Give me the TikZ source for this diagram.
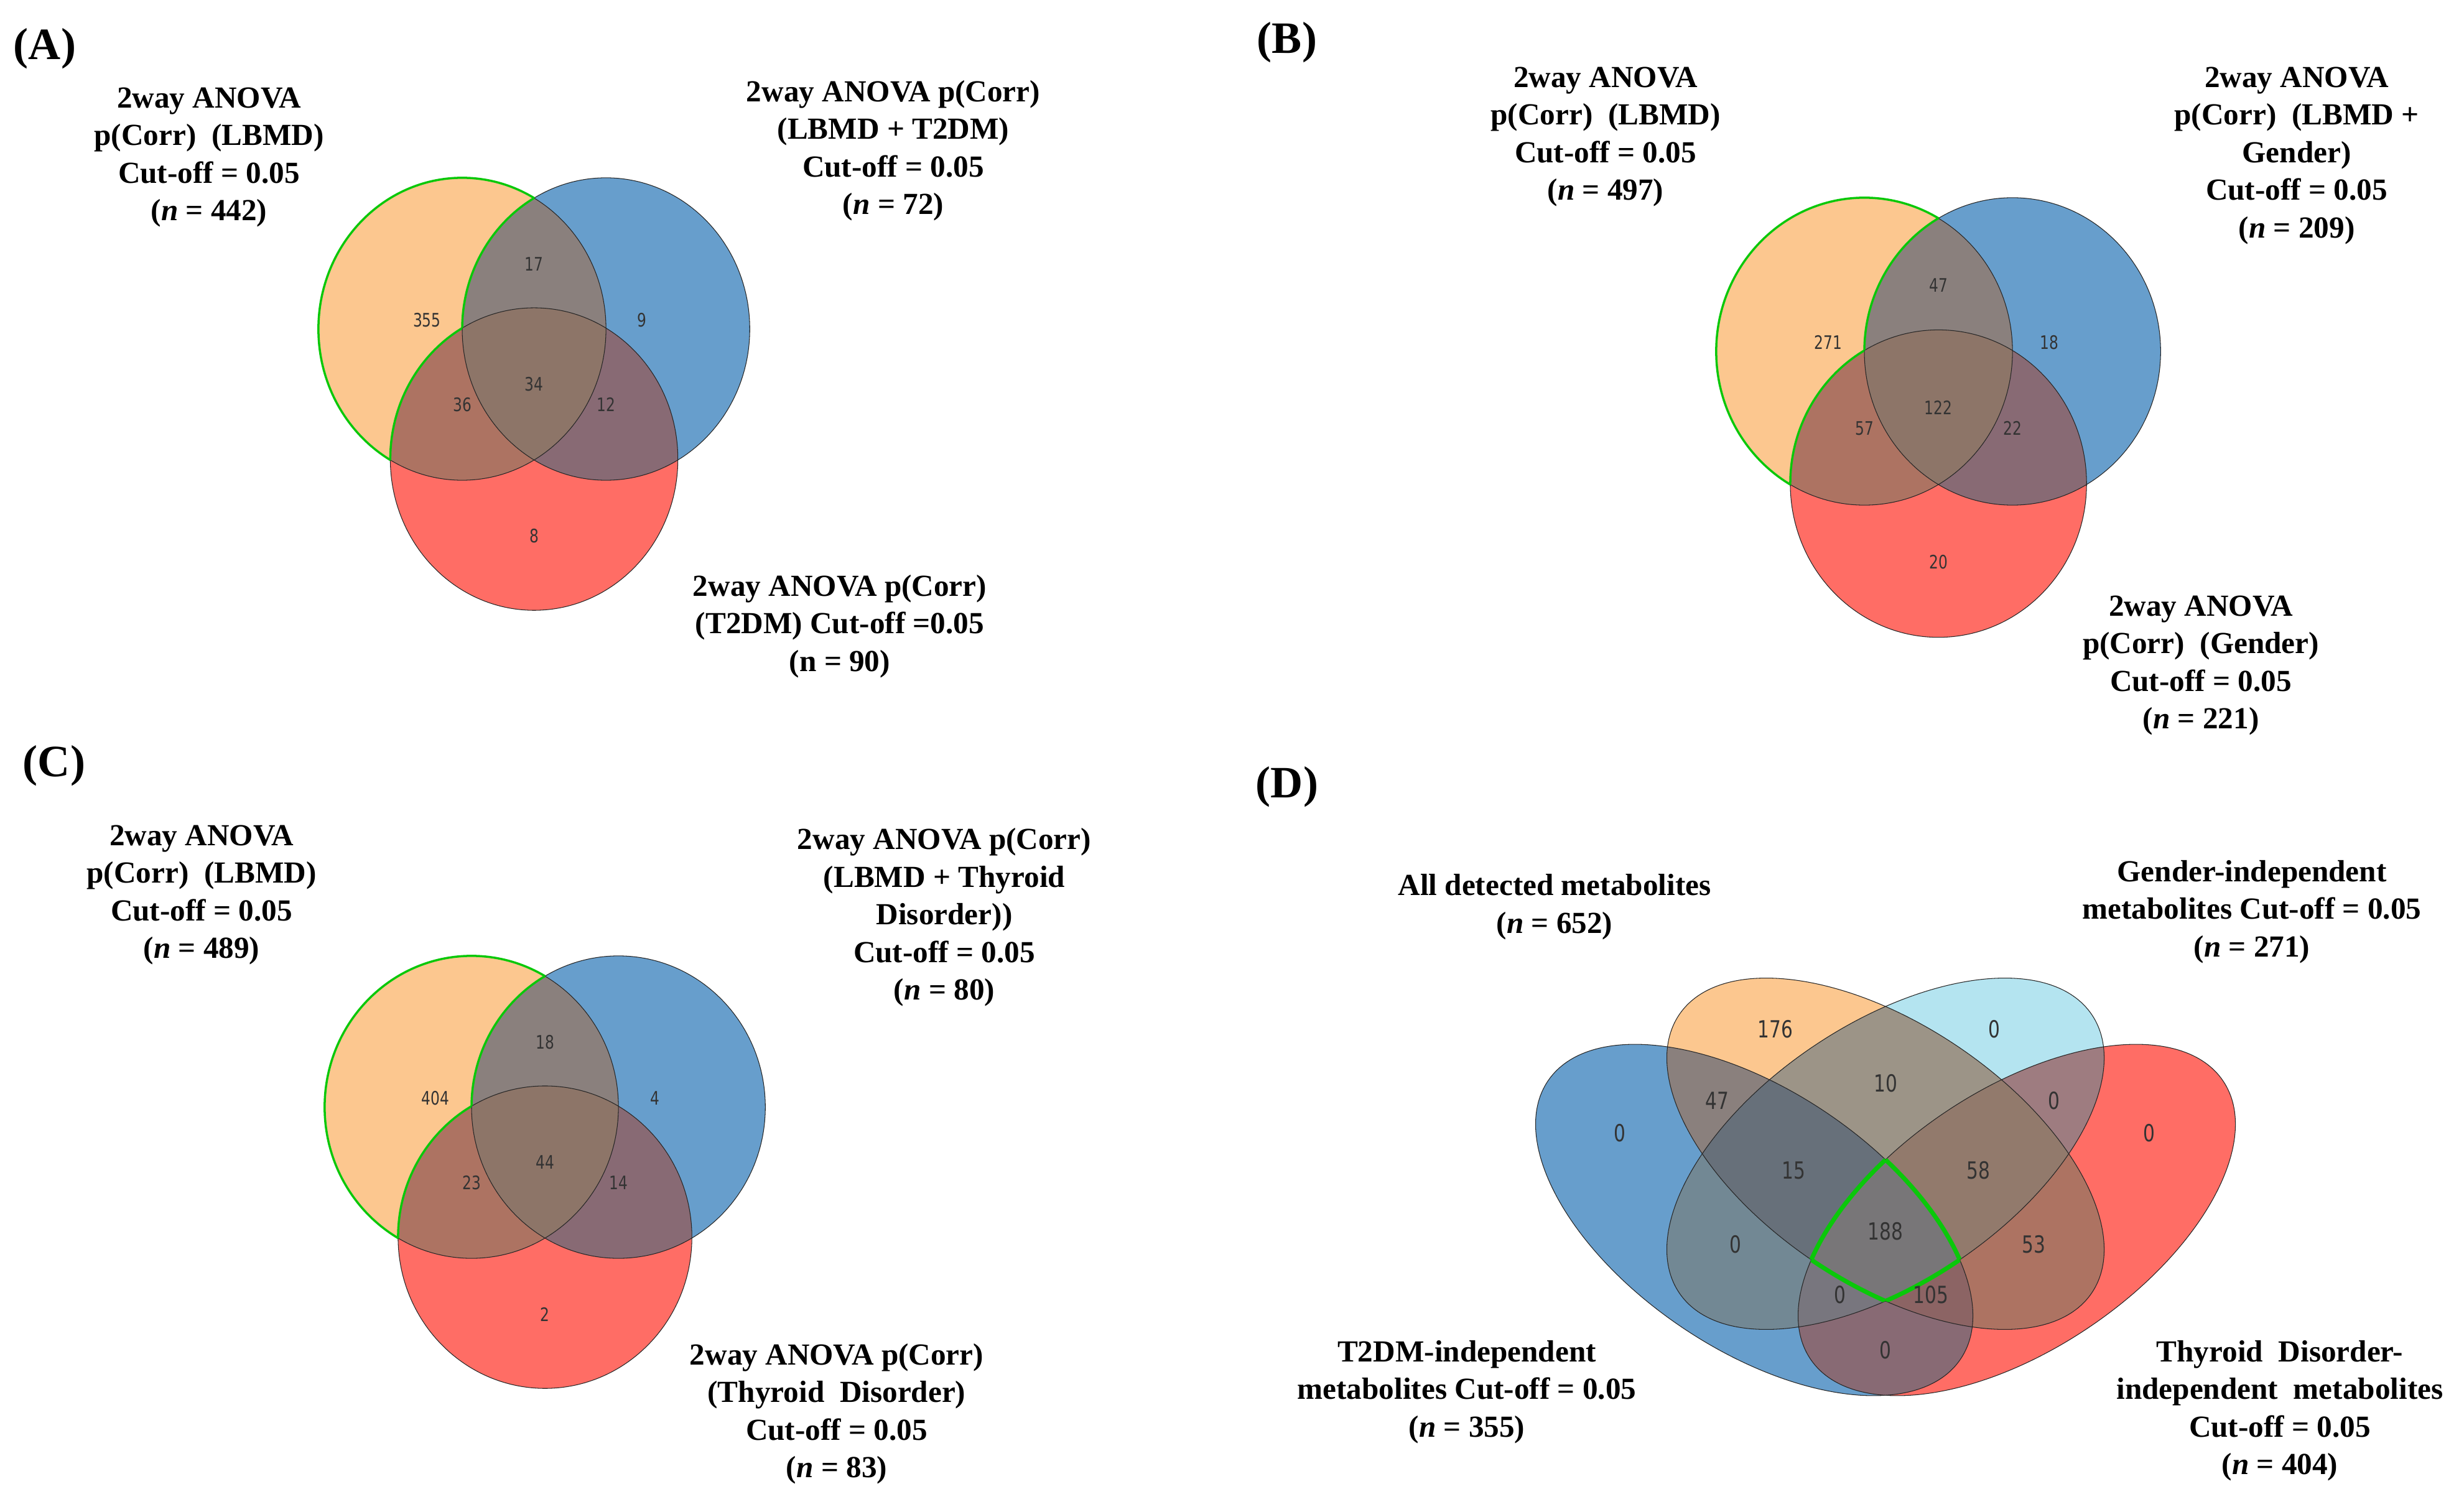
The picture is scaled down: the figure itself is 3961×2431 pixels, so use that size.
\documentclass[tikz,border=0pt]{standalone}
\usepackage{fontspec}
\setmainfont{Liberation Serif}
\newfontfamily\numfont[FakeStretch=0.78]{DejaVu Sans}

\definecolor{vO}{RGB}{252,199,143}
\definecolor{vB}{RGB}{103,158,204}
\definecolor{vR}{RGB}{255,109,101}
\definecolor{vL}{RGB}{180,228,240}
\definecolor{vOB}{RGB}{138,128,125}
\definecolor{vOR}{RGB}{173,115,98}
\definecolor{vBR}{RGB}{136,106,116}
\definecolor{vOBR}{RGB}{141,117,104}
\definecolor{vOL}{RGB}{156,148,135}
\definecolor{vLR}{RGB}{158,124,128}
\definecolor{vBL}{RGB}{114,136,148}
\definecolor{vBOL}{RGB}{103,112,122}
\definecolor{vOLR}{RGB}{146,122,108}
\definecolor{vBLR}{RGB}{120,118,126}
\definecolor{vBOR}{RGB}{140,100,100}
\definecolor{vAll}{RGB}{120,118,120}
\definecolor{hlgreen}{RGB}{10,200,10}

\tikzset{
  lbl/.style={font=\bfseries\fontsize{14}{17.2}\selectfont, align=center, inner sep=0pt},
  num/.style={font=\numfont\fontsize{8.5}{10}\selectfont, text=black!80, inner sep=0pt},
  numD/.style={font=\numfont\fontsize{10.8}{12}\selectfont, text=black!80, inner sep=0pt},
  tag/.style={font=\bfseries\fontsize{20.5}{24}\selectfont, inner sep=0pt},
  rim/.style={draw=black!85, line width=0.3pt},
  hl/.style={draw=hlgreen, line width=1pt},
  hlD/.style={draw=hlgreen, line width=2pt},
  eB/.style={rotate around={-34:(2820,1961.5)}},
  eO/.style={rotate around={-34:(3031,1855)}},
  eL/.style={rotate around={34:(3031,1855)}},
  eR/.style={rotate around={34:(3242,1961.5)}}
}

% ellipses of panel D
\newcommand\shB{(2820,1961.5) ellipse [x radius=400, y radius=208]}
\newcommand\shO{(3031,1855) ellipse [x radius=400, y radius=208]}
\newcommand\shL{(3031,1855) ellipse [x radius=400, y radius=208]}
\newcommand\shR{(3242,1961.5) ellipse [x radius=400, y radius=208]}
\newcommand\lapfill[5]{\begin{scope}\clip[#1]#2;\fill[#3,fill=#5]#4;\end{scope}}

% three circle venn, unit = radius
\newcommand\venntri[8]{%
  \fill[vO] (0,0) circle (1);
  \fill[vB] (1,0) circle (1);
  \fill[vR] (0.5,0.86) circle (1);
  \begin{scope}
    \clip (0,0) circle (1);
    \fill[vOB] (1,0) circle (1);
    \fill[vOR] (0.5,0.86) circle (1);
  \end{scope}
  \begin{scope}
    \clip (1,0) circle (1);
    \fill[vBR] (0.5,0.86) circle (1);
  \end{scope}
  \begin{scope}
    \clip (0,0) circle (1);
    \clip (1,0) circle (1);
    \fill[vOBR] (0.5,0.86) circle (1);
  \end{scope}
  \draw[rim] (0,0) circle (1) (1,0) circle (1) (0.5,0.86) circle (1);
  % green rim of the first set alone
  \begin{scope}[even odd rule]
    \clip (-3,-3) rectangle (4,4) (1,0) circle (1);
    \clip (-3,-3) rectangle (4,4) (0.5,0.86) circle (1);
    \draw[hl] (0,0) circle (1);
  \end{scope}
  \begin{scope}[even odd rule]
    \clip (0,0) circle (1);
    \clip (-3,-3) rectangle (4,4) (0.5,0.86) circle (1);
    \draw[hl] (1,0) circle (1);
  \end{scope}
  \begin{scope}[even odd rule]
    \clip (0,0) circle (1);
    \clip (-3,-3) rectangle (4,4) (1,0) circle (1);
    \draw[hl] (0.5,0.86) circle (1);
  \end{scope}
  \node[num] (#1-o) at (-0.245,-0.06) {#2};
  \node[num] (#1-b) at (1.25,-0.06) {#3};
  \node[num] (#1-r) at (0.5,1.37) {#4};
  \node[num] (#1-ob) at (0.5,-0.43) {#5};
  \node[num] (#1-or) at (0,0.5) {#6};
  \node[num] (#1-br) at (1,0.5) {#7};
  \node[num] (#1-obr) at (0.5,0.365) {#8};
}

\begin{document}
\begin{tikzpicture}[x=0.01cm, y=-0.01cm]
\useasboundingbox (0,0) rectangle (3961,2431);

% (A)
\begin{scope}[shift={(743,529)}, x=2.31cm, y=-2.43cm]
  \venntri{A}{355}{9}{8}{17}{36}{12}{34}
\end{scope}
\node[tag] (tagA) at (72,78) {(A)};
\node[lbl] (labA1) at (336,253) {2way ANOVA\\ p(Corr)\ \ (LBMD)\\ Cut-off = 0.05\\ (\textit{n} = 442)};
\node[lbl] (labA2) at (1436,242) {2way ANOVA p(Corr)\\ (LBMD + T2DM)\\ Cut-off = 0.05\\ (\textit{n} = 72)};
\node[lbl] (labA3) at (1350,1007) {2way ANOVA p(Corr)\\ (T2DM) Cut-off =0.05\\ (n = 90)};

% (B)
\begin{scope}[shift={(2997,565)}, x=2.38cm, y=-2.47cm]
  \venntri{B}{271}{18}{20}{47}{57}{22}{122}
\end{scope}
\node[tag] (tagB) at (2069,68) {(B)};
\node[lbl] (labB1) at (2581,220) {2way ANOVA\\ p(Corr)\ \ (LBMD)\\ Cut-off = 0.05\\ (\textit{n} = 497)};
\node[lbl] (labB2) at (3692,250) {2way ANOVA\\ p(Corr)\ \ (LBMD +\\ Gender)\\ Cut-off = 0.05\\ (\textit{n} = 209)};
\node[lbl] (labB3) at (3538,1070) {2way ANOVA\\ p(Corr)\ \ (Gender)\\ Cut-off = 0.05\\ (\textit{n} = 221)};

% (C)
\begin{scope}[shift={(758,1780)}, x=2.36cm, y=-2.43cm]
  \venntri{C}{404}{4}{2}{18}{23}{14}{44}
\end{scope}
\node[tag] (tagC) at (87,1231) {(C)};
\node[lbl] (labC1) at (324,1439) {2way ANOVA\\ p(Corr)\ \ (LBMD)\\ Cut-off = 0.05\\ (\textit{n} = 489)};
\node[lbl] (labC2) at (1518,1475) {2way ANOVA p(Corr)\\ (LBMD + Thyroid\\ Disorder))\\ Cut-off = 0.05\\ (\textit{n} = 80)};
\node[lbl] (labC3) at (1345,2273) {2way ANOVA p(Corr)\\ (Thyroid\ \ Disorder)\\ Cut-off = 0.05\\ (\textit{n} = 83)};

% (D)
\fill[eB, fill=vB] \shB;
\fill[eO, fill=vO] \shO;
\fill[eL, fill=vL] \shL;
\fill[eR, fill=vR] \shR;
\lapfill{eB}{\shB}{eO}{\shO}{vOB}
\lapfill{eB}{\shB}{eL}{\shL}{vBL}
\lapfill{eB}{\shB}{eR}{\shR}{vBR}
\lapfill{eO}{\shO}{eL}{\shL}{vOL}
\lapfill{eO}{\shO}{eR}{\shR}{vOR}
\lapfill{eL}{\shL}{eR}{\shR}{vLR}
\begin{scope}\clip[eB]\shB; \lapfill{eO}{\shO}{eL}{\shL}{vBOL}\end{scope}
\begin{scope}\clip[eB]\shB; \lapfill{eO}{\shO}{eR}{\shR}{vBOR}\end{scope}
\begin{scope}\clip[eB]\shB; \lapfill{eL}{\shL}{eR}{\shR}{vBLR}\end{scope}
\begin{scope}\clip[eO]\shO; \lapfill{eL}{\shL}{eR}{\shR}{vOLR}\end{scope}
\begin{scope}\clip[eB]\shB; \clip[eO]\shO; \lapfill{eL}{\shL}{eR}{\shR}{vAll}\end{scope}
\draw[rim, eB] \shB;
\draw[rim, eO] \shO;
\draw[rim, eL] \shL;
\draw[rim, eR] \shR;
% green rim of the common part
\begin{scope}\clip[eO]\shO; \clip[eL]\shL; \clip[eR]\shR; \draw[hlD, eB] \shB;\end{scope}
\begin{scope}\clip[eB]\shB; \clip[eL]\shL; \clip[eR]\shR; \draw[hlD, eO] \shO;\end{scope}
\begin{scope}\clip[eB]\shB; \clip[eO]\shO; \clip[eR]\shR; \draw[hlD, eL] \shL;\end{scope}
\begin{scope}\clip[eB]\shB; \clip[eO]\shO; \clip[eL]\shL; \draw[hlD, eR] \shR;\end{scope}

\node[numD] (dO) at (2854,1655) {176};
\node[numD] (dL) at (3206,1655) {0};
\node[numD] (dBO) at (2760,1770) {47};
\node[numD] (dOL) at (3031,1742) {10};
\node[numD] (dLR) at (3302,1770) {0};
\node[numD] (dB) at (2604,1822) {0};
\node[numD] (dR) at (3455,1822) {0};
\node[numD] (dBOL) at (2883,1882) {15};
\node[numD] (dOLR) at (3180,1882) {58};
\node[numD] (dAll) at (3031,1980) {188};
\node[numD] (dBL) at (2790,2001) {0};
\node[numD] (dOR) at (3269,2001) {53};
\node[numD] (dBLR) at (2958,2082) {0};
\node[numD] (dBOR) at (3104,2082) {105};
\node[numD] (dBR) at (3031,2171) {0};

\node[tag] (tagD) at (2069,1265) {(D)};
\node[lbl] (labD1) at (2499,1458) {All detected metabolites\\ (\textit{n} = 652)};
\node[lbl] (labD2) at (3620,1466) {Gender-independent\\ metabolites Cut-off = 0.05\\ (\textit{n} = 271)};
\node[lbl] (labD3) at (2358,2238) {T2DM-independent\\ metabolites Cut-off = 0.05\\ (\textit{n} = 355)};
\node[lbl] (labD4) at (3665,2268) {Thyroid\ \ Disorder-\\ independent\ \ metabolites\\ Cut-off = 0.05\\ (\textit{n} = 404)};
\end{tikzpicture}
\end{document}
